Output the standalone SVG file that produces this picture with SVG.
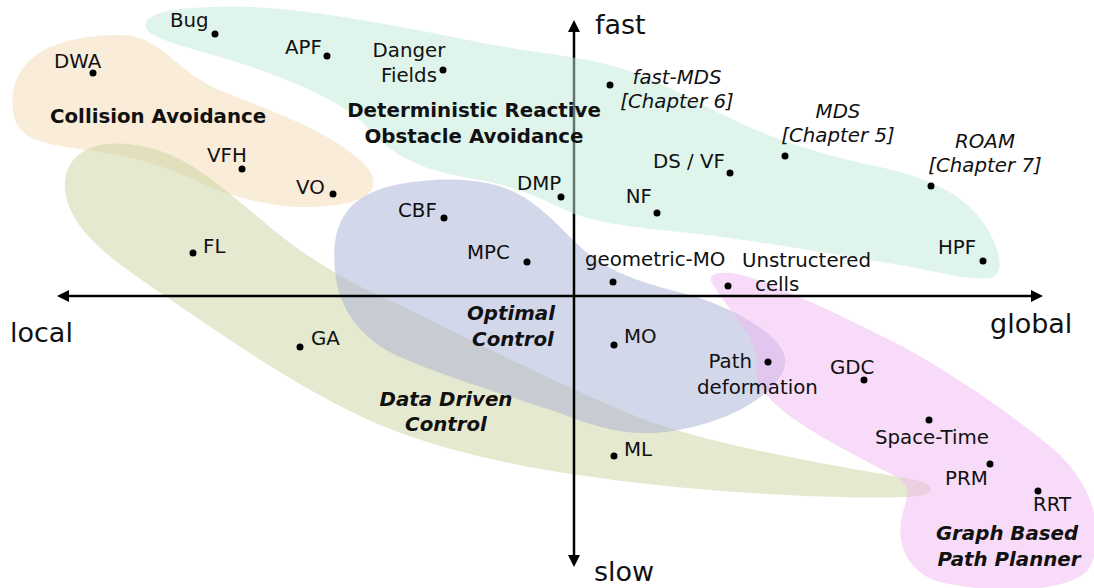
<svg xmlns="http://www.w3.org/2000/svg" width="1094" height="588" viewBox="0 0 1094 588">
<style>
text{font-family:"DejaVu Sans","Liberation Sans",sans-serif;font-size:19.8px;fill:#111}
.ax{font-size:27px}
.b{font-weight:bold}
.bi{font-weight:bold;font-style:italic}
.i{font-style:italic}
.m{text-anchor:middle}
.e{text-anchor:end}
.dot{fill:#000}
.axis{stroke:#000;stroke-width:2.5;fill:none}
.blob{stroke:none;fill-opacity:0.5}
</style>
<defs>
<marker id="arr" viewBox="0 0 12 12" refX="4" refY="6" markerWidth="12" markerHeight="12" markerUnits="userSpaceOnUse" orient="auto-start-reverse">
<path d="M0,0 L12,6 L0,12 Z" fill="#000"/>
</marker>
</defs>
<g id="region-collision">
<path class="blob" fill="#f3d9b1" d="M13,110 C8,60 50,35 120,35 C160,35 175,70 215,88 C260,108 320,125 360,160 C385,182 375,200 335,205 C285,212 235,200 190,178 C140,155 95,152 55,145 C28,140 15,130 13,110 Z"/>
</g>
<g id="region-datadriven">
<path class="blob" fill="#cbd39f" d="M65,190 C62,150 100,135 150,148 C200,160 240,205 290,243 C330,272 365,290 400,305 C480,345 560,385 640,418 C720,448 850,468 915,480 C940,486 935,496 905,497 C820,499 700,492 600,478 C520,468 440,450 380,425 C300,390 230,340 165,296 C125,268 70,235 65,190 Z"/>
</g>
<g id="region-optimal">
<path class="blob" fill="#a7afd5" d="M335,270 C330,220 350,193 400,184 C445,176 490,178 520,195 C550,212 565,235 590,255 C615,275 650,285 690,295 C740,310 790,340 785,365 C778,395 725,425 665,432 C625,437 590,425 560,413 C500,393 440,375 400,357 C360,340 337,305 335,270 Z"/>
</g>
<g id="region-graph">
<path class="blob" fill="#efb7f1" d="M712,283 C705,271 728,270 752,278 C800,295 850,320 900,345 C960,378 1020,420 1060,455 C1095,490 1108,540 1088,570 C1068,593 990,594 940,582 C905,572 895,540 903,512 C908,495 912,486 895,476 C860,458 810,433 782,410 C760,392 752,375 757,360 C755,335 728,310 712,283 Z"/>
</g>
<g id="connectors">
<line class="axis" x1="65" y1="296" x2="1035" y2="296" marker-start="url(#arr)" marker-end="url(#arr)"/>
<line class="axis" x1="574" y1="559" x2="574" y2="28" marker-start="url(#arr)" marker-end="url(#arr)"/>
</g>
<g id="region-reactive">
<path class="blob" fill="#bfebd9" d="M146,23 C150,8 200,6 250,7 C330,10 440,35 500,46 C545,54 580,56 620,68 C660,80 690,100 730,118 C770,138 820,155 880,167 C930,178 965,195 985,225 C1002,252 1005,275 990,278 C970,281 940,272 900,265 C820,252 740,238 680,232 C630,227 590,222 565,210 C535,195 510,185 470,178 C420,170 390,155 365,125 C340,100 290,80 240,63 C190,47 140,38 146,23 Z"/>
</g>
<g id="region-labels">
<text class="b" x="50" y="123">Collision Avoidance</text>
<text class="b m" x="474" y="117">Deterministic Reactive</text>
<text class="b m" x="474" y="143">Obstacle Avoidance</text>
<text class="bi m" x="511" y="320">Optimal</text>
<text class="bi m" x="513" y="346">Control</text>
<text class="bi m" x="446" y="406">Data Driven</text>
<text class="bi m" x="446" y="431">Control</text>
<text class="bi m" x="1007" y="540">Graph Based</text>
<text class="bi m" x="1009" y="566">Path Planner</text>
</g>
<g id="axis-labels">
<text class="ax" x="595" y="34">fast</text>
<text class="ax" x="594" y="581">slow</text>
<text class="ax" x="10" y="342">local</text>
<text class="ax" x="990" y="333">global</text>
</g>
<g id="n-bug"><circle class="dot" cx="215" cy="34" r="3.5"/><text x="170" y="27">Bug</text></g>
<g id="n-apf"><circle class="dot" cx="327" cy="56" r="3.5"/><text x="285" y="54">APF</text></g>
<g id="n-danger"><circle class="dot" cx="443" cy="70" r="3.5"/><text class="m" x="409" y="57">Danger</text><text class="m" x="409" y="82">Fields</text></g>
<g id="n-fastmds"><circle class="dot" cx="610" cy="85" r="3.5"/><text class="i m" x="677" y="84">fast-MDS</text><text class="i m" x="677" y="108">[Chapter 6]</text></g>
<g id="n-mds"><circle class="dot" cx="785" cy="156" r="3.5"/><text class="i m" x="838" y="118">MDS</text><text class="i m" x="838" y="142">[Chapter 5]</text></g>
<g id="n-roam"><circle class="dot" cx="931" cy="186" r="3.5"/><text class="i m" x="985" y="148">ROAM</text><text class="i m" x="985" y="172">[Chapter 7]</text></g>
<g id="n-dsvf"><circle class="dot" cx="730" cy="173" r="3.5"/><text class="e" x="725" y="168">DS / VF</text></g>
<g id="n-nf"><circle class="dot" cx="657" cy="213" r="3.5"/><text class="e" x="652" y="203">NF</text></g>
<g id="n-dmp"><circle class="dot" cx="561" cy="197" r="3.5"/><text x="517" y="190">DMP</text></g>
<g id="n-hpf"><circle class="dot" cx="983" cy="261" r="3.5"/><text x="938" y="254">HPF</text></g>
<g id="n-dwa"><circle class="dot" cx="93" cy="73" r="3.5"/><text x="54" y="68">DWA</text></g>
<g id="n-vfh"><circle class="dot" cx="242" cy="169" r="3.5"/><text x="207" y="162">VFH</text></g>
<g id="n-vo"><circle class="dot" cx="333" cy="194" r="3.5"/><text x="296" y="194">VO</text></g>
<g id="n-fl"><circle class="dot" cx="193" cy="253" r="3.5"/><text x="203" y="253">FL</text></g>
<g id="n-cbf"><circle class="dot" cx="444" cy="218" r="3.5"/><text x="398" y="217">CBF</text></g>
<g id="n-mpc"><circle class="dot" cx="527" cy="262" r="3.5"/><text x="467" y="259">MPC</text></g>
<g id="n-geomo"><circle class="dot" cx="613" cy="282" r="3.5"/><text x="585" y="266">geometric-MO</text></g>
<g id="n-cells"><circle class="dot" cx="728" cy="286" r="3.5"/><text x="742" y="267">Unstructered</text><text x="755" y="291">cells</text></g>
<g id="n-ga"><circle class="dot" cx="300" cy="347" r="3.5"/><text x="311" y="345">GA</text></g>
<g id="n-mo"><circle class="dot" cx="614" cy="345" r="3.5"/><text x="624" y="343">MO</text></g>
<g id="n-pathdef"><circle class="dot" cx="768" cy="362" r="3.5"/><text class="e" x="752" y="368">Path</text><text x="697" y="394">deformation</text></g>
<g id="n-gdc"><circle class="dot" cx="864" cy="380" r="3.5"/><text x="830" y="374">GDC</text></g>
<g id="n-spacetime"><circle class="dot" cx="929" cy="420" r="3.5"/><text x="875" y="444">Space-Time</text></g>
<g id="n-prm"><circle class="dot" cx="990" cy="464" r="3.5"/><text x="945" y="485">PRM</text></g>
<g id="n-rrt"><circle class="dot" cx="1038" cy="491" r="3.5"/><text x="1033" y="511">RRT</text></g>
<g id="n-ml"><circle class="dot" cx="614" cy="456" r="3.5"/><text x="624" y="456">ML</text></g>
</svg>
